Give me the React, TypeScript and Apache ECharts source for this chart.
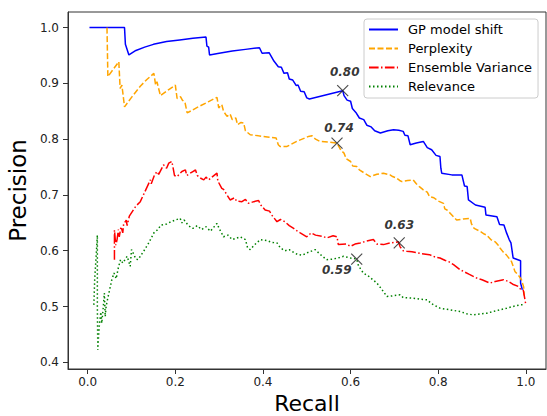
import React, { useEffect, useRef } from 'react';
import * as echarts from 'echarts';

const xTicks = [0, 0.2, 0.4, 0.6, 0.8, 1.0];
const yTicks = [0.4, 0.5, 0.6, 0.7, 0.8, 0.9, 1.0];
const seriesNames = ['GP model shift', 'Perplexity', 'Ensemble Variance', 'Relevance'];

const gpPoints: [number, number][] = [
  [0.004, 1.0], [0.084, 1.0], [0.086, 0.97], [0.094, 0.951], [0.11, 0.959], [0.13, 0.965], [0.15, 0.97],
  [0.18, 0.975], [0.21, 0.978], [0.24, 0.981], [0.27, 0.983], [0.272, 0.967], [0.276, 0.965], [0.278, 0.951],
  [0.3, 0.954], [0.33, 0.958], [0.36, 0.961], [0.392, 0.964], [0.398, 0.954], [0.414, 0.955], [0.425, 0.94],
  [0.435, 0.93], [0.442, 0.929], [0.448, 0.918], [0.456, 0.919], [0.46, 0.908], [0.468, 0.906], [0.476, 0.896],
  [0.48, 0.897], [0.486, 0.886], [0.494, 0.885], [0.5, 0.874], [0.506, 0.872], [0.582, 0.887], [0.585, 0.878],
  [0.592, 0.87], [0.6, 0.868], [0.604, 0.855], [0.612, 0.848], [0.62, 0.838], [0.63, 0.835], [0.637, 0.825],
  [0.647, 0.822], [0.655, 0.815], [0.668, 0.811], [0.685, 0.815], [0.698, 0.817], [0.71, 0.816], [0.72, 0.814],
  [0.724, 0.807], [0.731, 0.806], [0.736, 0.79], [0.75, 0.793], [0.766, 0.796], [0.775, 0.785], [0.785, 0.781],
  [0.795, 0.771], [0.804, 0.769], [0.806, 0.748], [0.808, 0.739], [0.831, 0.736], [0.854, 0.736], [0.86, 0.716],
  [0.866, 0.715], [0.869, 0.691], [0.885, 0.682], [0.907, 0.678], [0.909, 0.664], [0.934, 0.661], [0.94, 0.647],
  [0.95, 0.646], [0.956, 0.632], [0.962, 0.62], [0.966, 0.614], [0.971, 0.587], [0.988, 0.582], [0.988, 0.542],
  [0.992, 0.53],
];

const perplexityPoints: [number, number][] = [
  [0.044, 1.0], [0.046, 0.912], [0.071, 0.939], [0.074, 0.891], [0.078, 0.897], [0.084, 0.858], [0.1, 0.875],
  [0.12, 0.895], [0.135, 0.907], [0.151, 0.918], [0.155, 0.897], [0.158, 0.903], [0.166, 0.878], [0.185, 0.889],
  [0.2, 0.897], [0.204, 0.873], [0.212, 0.876], [0.216, 0.87], [0.222, 0.866], [0.227, 0.847], [0.25, 0.857],
  [0.275, 0.867], [0.295, 0.875], [0.299, 0.856], [0.306, 0.862], [0.31, 0.85], [0.318, 0.841], [0.325, 0.845],
  [0.33, 0.835], [0.338, 0.838], [0.342, 0.826], [0.35, 0.83], [0.356, 0.829], [0.36, 0.815], [0.371, 0.808],
  [0.39, 0.806], [0.41, 0.804], [0.43, 0.802], [0.435, 0.79], [0.439, 0.787], [0.455, 0.787], [0.477, 0.796],
  [0.495, 0.802], [0.504, 0.805], [0.512, 0.806], [0.52, 0.8], [0.53, 0.796], [0.55, 0.795], [0.569, 0.793],
  [0.578, 0.78], [0.585, 0.775], [0.59, 0.765], [0.6, 0.76], [0.605, 0.752], [0.614, 0.751], [0.62, 0.745],
  [0.63, 0.74], [0.645, 0.733], [0.66, 0.737], [0.675, 0.739], [0.69, 0.736], [0.696, 0.733], [0.705, 0.73],
  [0.712, 0.726], [0.717, 0.724], [0.73, 0.726], [0.743, 0.727], [0.75, 0.72], [0.757, 0.715], [0.766, 0.709],
  [0.775, 0.705], [0.78, 0.697], [0.79, 0.695], [0.8, 0.689], [0.812, 0.685], [0.815, 0.675], [0.82, 0.673],
  [0.83, 0.665], [0.842, 0.655], [0.857, 0.657], [0.873, 0.658], [0.876, 0.648], [0.882, 0.64], [0.895, 0.635],
  [0.905, 0.63], [0.911, 0.628], [0.92, 0.62], [0.93, 0.616], [0.937, 0.61], [0.941, 0.605], [0.948, 0.598],
  [0.955, 0.593], [0.963, 0.585], [0.967, 0.581], [0.972, 0.57], [0.975, 0.563], [0.984, 0.555], [0.99, 0.548],
  [0.995, 0.535], [0.996, 0.52],
];

const ensemblePoints: [number, number][] = [
  [0.061, 0.584], [0.061, 0.637], [0.064, 0.61], [0.067, 0.62], [0.07, 0.638], [0.072, 0.625], [0.076, 0.643],
  [0.08, 0.632], [0.082, 0.648], [0.088, 0.655], [0.09, 0.645], [0.095, 0.662], [0.11, 0.68], [0.12, 0.688],
  [0.13, 0.705], [0.143, 0.727], [0.145, 0.72], [0.152, 0.735], [0.158, 0.742], [0.162, 0.737], [0.173, 0.754],
  [0.18, 0.748], [0.185, 0.757], [0.192, 0.76], [0.195, 0.748], [0.198, 0.735], [0.204, 0.733], [0.215, 0.742],
  [0.223, 0.745], [0.226, 0.735], [0.232, 0.738], [0.24, 0.742], [0.246, 0.745], [0.25, 0.735], [0.258, 0.73],
  [0.265, 0.727], [0.27, 0.732], [0.276, 0.727], [0.285, 0.733], [0.295, 0.739], [0.297, 0.725], [0.306, 0.712],
  [0.31, 0.71], [0.318, 0.7], [0.325, 0.691], [0.335, 0.695], [0.34, 0.689], [0.352, 0.688], [0.36, 0.692],
  [0.367, 0.685], [0.379, 0.688], [0.39, 0.69], [0.395, 0.682], [0.405, 0.673], [0.415, 0.671], [0.42, 0.664],
  [0.432, 0.652], [0.44, 0.656], [0.45, 0.652], [0.46, 0.645], [0.47, 0.64], [0.477, 0.636], [0.485, 0.632],
  [0.5, 0.625], [0.51, 0.632], [0.52, 0.628], [0.535, 0.626], [0.546, 0.623], [0.56, 0.627], [0.569, 0.625],
  [0.572, 0.611], [0.59, 0.612], [0.6, 0.608], [0.61, 0.612], [0.622, 0.614], [0.635, 0.617], [0.652, 0.62],
  [0.66, 0.612], [0.675, 0.611], [0.69, 0.614], [0.709, 0.616], [0.713, 0.607], [0.72, 0.6], [0.728, 0.599],
  [0.74, 0.598], [0.76, 0.595], [0.78, 0.593], [0.795, 0.588], [0.804, 0.587], [0.815, 0.583], [0.825, 0.58],
  [0.835, 0.575], [0.85, 0.566], [0.87, 0.558], [0.888, 0.551], [0.9, 0.548], [0.918, 0.542], [0.93, 0.545],
  [0.949, 0.548], [0.96, 0.545], [0.97, 0.54], [0.983, 0.536], [0.987, 0.532], [0.994, 0.53], [1.0, 0.503],
];

const relevancePoints: [number, number][] = [
  [0.014, 0.503], [0.016, 0.55], [0.02, 0.6], [0.022, 0.628], [0.022, 0.58], [0.022, 0.5], [0.023, 0.422],
  [0.025, 0.45], [0.027, 0.47], [0.03, 0.49], [0.032, 0.47], [0.035, 0.494], [0.038, 0.524], [0.04, 0.482],
  [0.042, 0.5], [0.045, 0.512], [0.05, 0.53], [0.055, 0.548], [0.06, 0.56], [0.065, 0.55], [0.07, 0.57],
  [0.075, 0.584], [0.08, 0.578], [0.09, 0.59], [0.097, 0.572], [0.1, 0.602], [0.11, 0.585], [0.115, 0.584],
  [0.12, 0.59], [0.13, 0.602], [0.14, 0.615], [0.151, 0.632], [0.16, 0.638], [0.167, 0.646], [0.18, 0.648],
  [0.19, 0.652], [0.2, 0.655], [0.211, 0.658], [0.215, 0.65], [0.22, 0.655], [0.23, 0.645], [0.24, 0.64],
  [0.25, 0.645], [0.26, 0.638], [0.27, 0.643], [0.28, 0.635], [0.295, 0.649], [0.3, 0.64], [0.31, 0.625],
  [0.32, 0.628], [0.33, 0.62], [0.348, 0.625], [0.36, 0.62], [0.365, 0.605], [0.371, 0.602], [0.38, 0.61],
  [0.394, 0.62], [0.41, 0.618], [0.42, 0.615], [0.432, 0.614], [0.44, 0.605], [0.45, 0.6], [0.46, 0.602],
  [0.47, 0.597], [0.48, 0.593], [0.49, 0.592], [0.5, 0.596], [0.519, 0.602], [0.53, 0.594], [0.545, 0.584],
  [0.56, 0.585], [0.575, 0.588], [0.584, 0.59], [0.6, 0.587], [0.614, 0.585], [0.618, 0.573], [0.629, 0.56],
  [0.64, 0.555], [0.66, 0.542], [0.67, 0.532], [0.683, 0.518], [0.695, 0.519], [0.713, 0.521], [0.72, 0.516],
  [0.743, 0.515], [0.76, 0.513], [0.775, 0.512], [0.785, 0.505], [0.804, 0.497], [0.82, 0.495], [0.85, 0.491],
  [0.865, 0.487], [0.88, 0.485], [0.9, 0.487], [0.911, 0.488], [0.93, 0.492], [0.956, 0.497], [0.97, 0.5],
  [0.987, 0.503], [0.998, 0.503],
];

const markerRecall = [0.582, 0.569, 0.711, 0.614];
const markerPrecision = [0.887, 0.793, 0.614, 0.585];
const markerLabels = ['0.80', '0.74', '0.63', '0.59'];

export default function App() {
  const ref = useRef<HTMLDivElement>(null);
  useEffect(() => {
    if (!ref.current) return;
    const chart = echarts.init(ref.current, null, { renderer: 'svg' });
    const font = 'DejaVu Sans';
    const colors = ['#0000ff', '#ffa500', '#ff0000', '#008000'];
    const dashes: any[] = ['solid', [6, 2.5], [9.6, 2.4, 1.5, 2.4], [1.5, 2.5]];
    const labelOffsets = [[2, -19], [2, -15], [0, -18], [-20, 11]];
    const curves = [gpPoints, perplexityPoints, ensemblePoints, relevancePoints];
    const lineSeries = curves.map((pts, i) => ({
      type: 'line',
      name: seriesNames[i],
      data: pts,
      symbol: 'none',
      showSymbol: false,
      silent: true,
      z: 2,
      itemStyle: { color: colors[i] },
      lineStyle: { width: 1.5, color: colors[i], type: dashes[i] },
    }));
    const axisColor = '#333';
    chart.setOption({
      animation: false,
      backgroundColor: '#fff',
      grid: {
        left: 68, top: 12, right: 1, bottom: 47, show: true, borderColor: axisColor, borderWidth: 1,
        containLabel: false, outerBoundsMode: 'none',
      },
      legend: {
        data: seriesNames,
        orient: 'vertical',
        left: 364,
        top: 19,
        itemWidth: 29,
        itemHeight: 14,
        itemGap: 6,
        padding: [4, 6, 5, 4],
        borderColor: '#cccccc',
        borderWidth: 1,
        borderRadius: 3,
        backgroundColor: 'rgba(255,255,255,0.8)',
        itemStyle: { opacity: 0 },
        textStyle: { fontFamily: font, fontSize: 13, color: '#000', padding: [0, 0, 0, 5] },
      },
      xAxis: {
        type: 'value',
        min: -0.045,
        max: 1.046,
        name: 'Recall',
        nameLocation: 'middle',
        nameGap: 22,
        nameTextStyle: { fontFamily: font, fontSize: 22, color: '#000' },
        axisLine: { show: true, onZero: false, lineStyle: { color: axisColor } },
        splitLine: { show: false },
        axisTick: { show: true, length: 5, customValues: xTicks, lineStyle: { color: axisColor } },
        axisLabel: { customValues: xTicks, formatter: (v: number) => v.toFixed(1), fontFamily: font, fontSize: 12, color: '#222', margin: 7 },
      },
      yAxis: {
        type: 'value',
        min: 0.388,
        max: 1.028,
        name: 'Precision',
        nameLocation: 'middle',
        nameGap: 36,
        nameTextStyle: { fontFamily: font, fontSize: 23, color: '#000' },
        axisLine: { show: true, onZero: false, lineStyle: { color: axisColor } },
        splitLine: { show: false },
        axisTick: { show: true, length: 5, customValues: yTicks, lineStyle: { color: axisColor } },
        axisLabel: { customValues: yTicks, formatter: (v: number) => v.toFixed(1), fontFamily: font, fontSize: 12, color: '#222', margin: 9 },
      },
      series: [
        ...lineSeries,
        {
          type: 'scatter',
          data: markerRecall.map((r, i) => ({
            value: [r, markerPrecision[i]],
            label: { offset: labelOffsets[i] },
          })),
          symbol: 'path://M0,0L10,10M10,0L0,10',
          symbolSize: 11,
          silent: true,
          z: 5,
          itemStyle: { color: 'none', borderColor: '#222', borderWidth: 1.2 },
          label: {
            show: true,
            position: 'inside',
            formatter: (p: any) => markerLabels[p.dataIndex],
            fontFamily: font,
            fontSize: 12,
            fontWeight: 'bold',
            fontStyle: 'italic',
            color: '#000',
          },
        },
      ],
    });
    return () => chart.dispose();
  }, []);
  return <div ref={ref} style={{ position: 'fixed', left: 0, top: 0, width: 547, height: 416 }} />;
}
